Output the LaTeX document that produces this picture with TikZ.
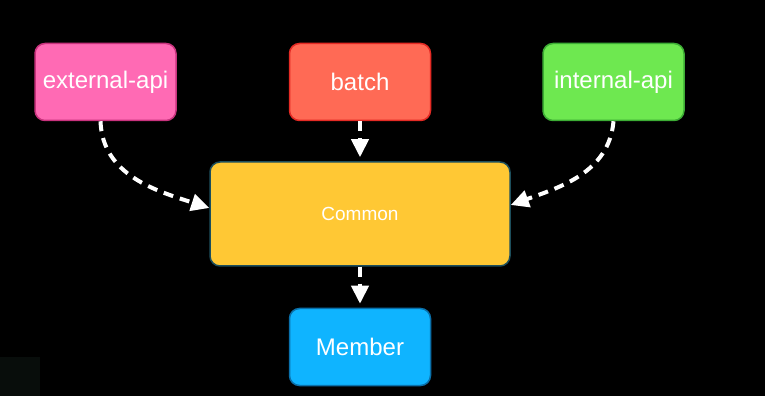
\documentclass[tikz,border=0pt]{standalone}
\usepackage{fontspec}
\setmainfont{Liberation Sans}
\usetikzlibrary{positioning,arrows.meta}
\definecolor{extpink}{RGB}{255,106,180}
\definecolor{extpinkline}{RGB}{200,50,125}
\definecolor{batchred}{RGB}{255,106,85}
\definecolor{batchredline}{RGB}{228,42,36}
\definecolor{intgreen}{RGB}{110,232,80}
\definecolor{intgreenline}{RGB}{60,172,52}
\definecolor{commonyellow}{RGB}{255,200,52}
\definecolor{commonline}{RGB}{28,78,92}
\definecolor{memberblue}{RGB}{15,180,255}
\definecolor{memberline}{RGB}{10,112,170}
\definecolor{cornergray}{RGB}{8,13,11}

\begin{document}
\begin{tikzpicture}[x=1pt, y=1pt,
  module/.style={draw, rectangle, rounded corners=10pt, line width=1.5pt,
    minimum width=141pt, minimum height=77pt, inner sep=0pt,
    text=white, font=\fontsize{24}{27}\selectfont},
  flow/.style={draw=white, line width=4pt, dash pattern=on 10pt off 7pt,
    -{Triangle[length=18pt, width=17pt]}}]
% Background
\fill[black] (0,0) rectangle (765,396);
\fill[cornergray] (0,0) rectangle (40,39);
\useasboundingbox (0,0) rectangle (765,396);

% Nodes
\node[module, fill=commonyellow, draw=commonline, minimum width=300pt, minimum height=104pt,
  font=\fontsize{19}{22}\selectfont] (common) at (360,182) {Common};
\node[module, fill=batchred, draw=batchredline, above=40pt of common] (batch) {batch};
\node[module, fill=extpink, draw=extpinkline, left=112pt of batch] (extapi) {external-api};
\node[module, fill=intgreen, draw=intgreenline, right=111pt of batch] (intapi) {internal-api};
\node[module, fill=memberblue, draw=memberline, below=41pt of common] (member) {Member};

% Arrows
\draw[flow] ([xshift=-5pt]extapi.south) to[out=-88, in=162] ([yshift=6pt]common.west);
\draw[flow, shorten >=4pt] (batch) -- (common);
\draw[flow] (intapi.south) to[out=-95, in=20] ([yshift=9pt]common.east);
\draw[flow, shorten >=4pt] (common) -- (member);
\end{tikzpicture}
\end{document}
